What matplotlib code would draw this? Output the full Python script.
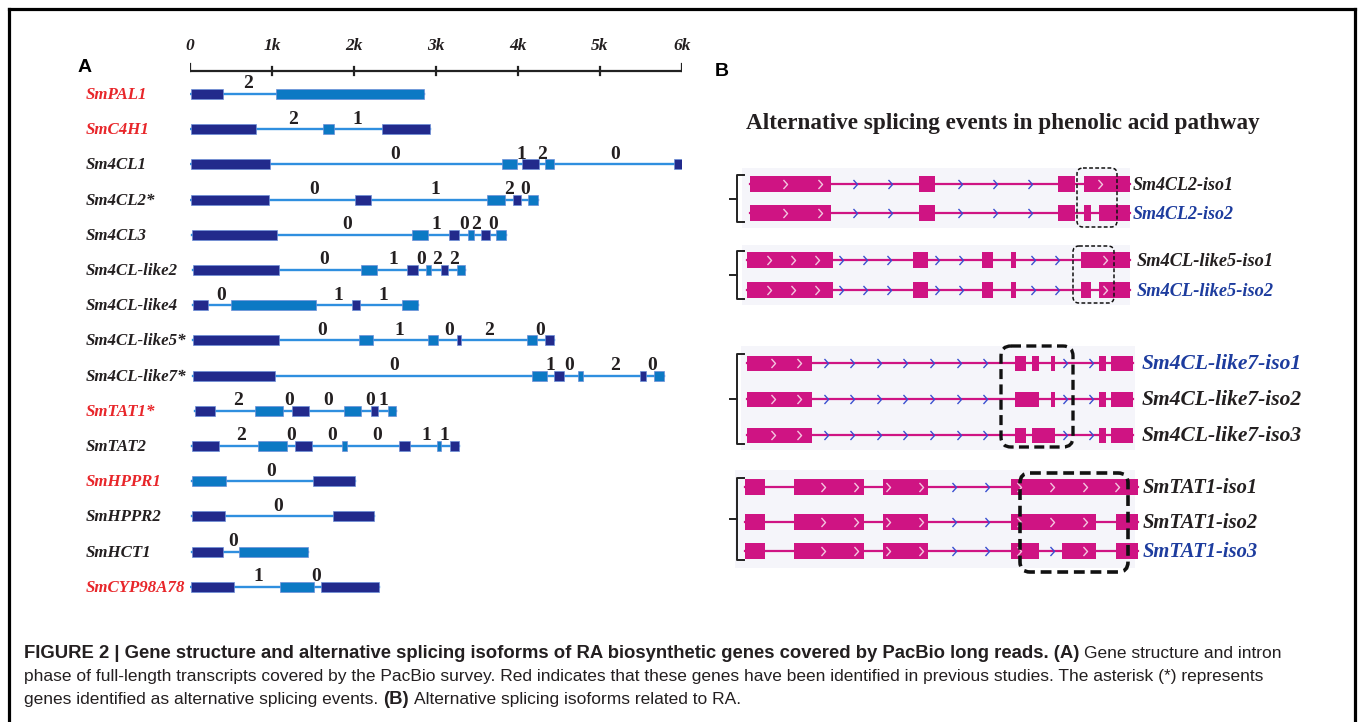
import matplotlib
matplotlib.use("Agg")
import matplotlib.pyplot as plt
from matplotlib.patches import Rectangle, FancyBboxPatch
from matplotlib.path import Path

W, H = 1358, 722

# ---------------- Panel A data (positions in bp) ----------------
genes = ["SmPAL1", "SmC4H1", "Sm4CL1", "Sm4CL2*", "Sm4CL3", "Sm4CL-like2",
         "Sm4CL-like4", "Sm4CL-like5*", "Sm4CL-like7*", "SmTAT1*", "SmTAT2",
         "SmHPPR1", "SmHPPR2", "SmHCT1", "SmCYP98A78"]
previously_identified = [True, True, False, False, False, False, False, False,
                         False, True, False, True, False, False, True]
# exons: (start, end, kind)  kind 'd' = dark, 'l' = light
gene_exons = [
    [(10, 408, 'd'), (1054, 2853, 'l')],
    [(10, 805, 'd'), (1625, 1750, 'l'), (2336, 2932, 'd')],
    [(10, 979, 'd'), (3802, 3986, 'l'), (4046, 4259, 'd'), (4334, 4433, 'l'), (5899, 5999, 'd')],
    [(10, 969, 'd'), (2008, 2207, 'd'), (3628, 3837, 'l'), (3936, 4036, 'd'), (4125, 4244, 'l')],
    [(25, 1059, 'd'), (2709, 2898, 'l'), (3156, 3280, 'd'), (3394, 3464, 'l'), (3554, 3653, 'd'), (3737, 3852, 'l')],
    [(40, 1083, 'd'), (2087, 2276, 'l'), (2644, 2783, 'd'), (2883, 2942, 'l'), (3057, 3146, 'd'), (3255, 3355, 'l')],
    [(40, 224, 'd'), (497, 1541, 'l'), (1978, 2077, 'd'), (2584, 2783, 'l')],
    [(40, 1083, 'd'), (2063, 2236, 'l'), (2897, 3022, 'l'), (3255, 3305, 'd'), (4115, 4234, 'l'), (4324, 4433, 'd')],
    [(40, 1034, 'd'), (4165, 4349, 'l'), (4438, 4562, 'd'), (4736, 4796, 'l'), (5482, 5566, 'd'), (5656, 5775, 'l')],
    [(60, 308, 'd'), (795, 1133, 'l'), (1243, 1451, 'd'), (1879, 2087, 'l'), (2212, 2296, 'd'), (2410, 2510, 'l')],
    [(25, 348, 'd'), (835, 1183, 'l'), (1277, 1491, 'd'), (1854, 1914, 'l'), (2545, 2684, 'd'), (3007, 3066, 'l'), (3171, 3280, 'd')],
    [(25, 437, 'l'), (1501, 2013, 'd')],
    [(25, 432, 'd'), (1749, 2246, 'd')],
    [(25, 398, 'd'), (596, 1441, 'l')],
    [(10, 537, 'd'), (1093, 1511, 'l'), (1600, 2306, 'd')],
]
# intron phases: (position, phase)
gene_phases = [
    [(706, '2')],
    [(1252, '2'), (2038, '1')],
    [(2505, '0'), (4046, '1'), (4299, '2'), (5179, '0')],
    [(1516, '0'), (2992, '1'), (3887, '2'), (4085, '0')],
    [(1913, '0'), (3007, '1'), (3345, '0'), (3489, '2'), (3693, '0')],
    [(1640, '0'), (2475, '1'), (2818, '0'), (3017, '2'), (3215, '2')],
    [(383, '0'), (1814, '1'), (2361, '1')],
    [(1615, '0'), (2550, '1'), (3166, '0'), (3653, '2'), (4274, '0')],
    [(2485, '0'), (4398, '1'), (4622, '0'), (5179, '2'), (5631, '0')],
    [(581, '2'), (1203, '0'), (1690, '0'), (2197, '0'), (2361, '1')],
    [(621, '2'), (1228, '0'), (1730, '0'), (2276, '0'), (2883, '1'), (3096, '1')],
    [(994, '0')],
    [(1078, '0')],
    [(527, '0')],
    [(835, '1'), (1541, '0')],
]
scale_ticks = [0, 1000, 2000, 3000, 4000, 5000, 6000]
scale_labels = ["0", "1k", "2k", "3k", "4k", "5k", "6k"]

# ---------------- Panel B data (track units, relative) ----------------
b_title = "Alternative splicing events in phenolic acid pathway"
b_names = [
    ["Sm4CL2-iso1", "Sm4CL2-iso2"],
    ["Sm4CL-like5-iso1", "Sm4CL-like5-iso2"],
    ["Sm4CL-like7-iso1", "Sm4CL-like7-iso2", "Sm4CL-like7-iso3"],
    ["SmTAT1-iso1", "SmTAT1-iso2", "SmTAT1-iso3"],
]
b_name_blue = [
    [False, True],
    [False, True],
    [True, False, False],
    [False, False, True],
]
b_exons = [
    [[(5, 86), (174, 190), (313, 330), (339, 385)],
     [(5, 86), (174, 190), (313, 330), (339, 346), (354, 385)]],
    [[(2, 88), (168, 183), (237, 248), (266, 271), (336, 385)],
     [(2, 88), (168, 183), (237, 248), (266, 271), (336, 346), (354, 385)]],
    [[(2, 67), (270, 281), (287, 294), (306, 310), (354, 361), (366, 388)],
     [(2, 67), (270, 294), (306, 310), (354, 361), (366, 388)],
     [(2, 67), (270, 281), (287, 310), (354, 361), (366, 388)]],
    [[(0, 20), (49, 119), (138, 183), (266, 393)],
     [(0, 20), (49, 119), (138, 183), (266, 351), (371, 393)],
     [(0, 20), (49, 119), (138, 183), (266, 294), (317, 351), (371, 393)]],
]
# highlighted (dashed box) region per block: (start, end)
b_highlight = [(332, 372), (328, 369), (256, 328), (275, 383)]

caption_lines = [
    [("FIGURE 2 | Gene structure and alternative splicing isoforms of RA biosynthetic genes covered by PacBio long reads. (A)", True),
     ("Gene structure and intron", False)],
    [("phase of full-length transcripts covered by the PacBio survey. Red indicates that these genes have been identified in previous studies. The asterisk (*) represents", False)],
    [("genes identified as alternative splicing events.", False), ("(B)", True),
     ("Alternative splicing isoforms related to RA.", False)],
]

# ---------------- styles ----------------
SERIF = "Liberation Serif"
SANS = "Liberation Sans"
DARK = "#222a8c"
LIGHT = "#0c79c4"
INTRON_A = "#2f8fdf"
RED = "#e8262a"
MAGENTA = "#cf1483"
CHEV_BLUE = "#3a4fd0"
NAME_BLUE = "#1d3c9e"
TEXT = "#231f20"

fig = plt.figure(figsize=(W / 100, H / 100), dpi=100)
fig.patch.set_facecolor("white")

# canvas in pixel coordinates for frame, labels and caption
cax = fig.add_axes([0, 0, 1, 1])
cax.set_xlim(0, W)
cax.set_ylim(H, 0)
cax.axis("off")

# outer frame
fr = dict(color="black", lw=2.3, solid_capstyle="projecting")
cax.plot([9, 9], [H + 5, 9], **fr)
cax.plot([9, 1355], [9, 9], **fr)
cax.plot([1355, 1355], [9, H + 5], **fr)

cax.text(85, 67, "A", fontsize=14, fontweight="bold", family=SANS, ha="center", va="center")
cax.text(722, 72, "B", fontsize=14, fontweight="bold", family=SANS, ha="center", va="center")

# ---------------- Panel A ----------------
axA = fig.add_axes([190 / W, 1 - 622 / H, (682 - 190) / W, (622 - 30) / H])
axA.set_xlim(0, 6000)
axA.set_ylim(622, 30)
axA.axis("off")

row0, drow = 94, 35.2
# scale bar
axA.plot([scale_ticks[0], scale_ticks[-1]], [71, 71], color="#222", lw=1.6, solid_capstyle="butt")
for i, (t, lab) in enumerate(zip(scale_ticks, scale_labels)):
    if i in (0, len(scale_ticks) - 1):
        axA.plot([t, t], [71, 64], color="#222", lw=1.6)
    else:
        axA.plot([t, t], [67, 75], color="#222", lw=1.6)
    axA.text(t, 46, lab, fontsize=12.5, fontweight="bold", style="italic", family=SERIF,
             ha="center", va="center", color=TEXT)

exh = 10
for i, (name, known, exons, phases) in enumerate(zip(genes, previously_identified, gene_exons, gene_phases)):
    y = row0 + drow * i
    cax.text(86, y + 1, name, fontsize=12.2, fontweight="bold", style="italic", family=SERIF,
             color=RED if known else TEXT, ha="left", va="center")
    axA.plot([exons[0][0], exons[-1][1]], [y, y], color=INTRON_A, lw=1.7, zorder=1)
    for s, e, k in exons:
        axA.add_patch(Rectangle((s, y - exh / 2), e - s, exh, facecolor=DARK if k == 'd' else LIGHT,
                                edgecolor="#6c8fd8", lw=0.5, zorder=2))
    for p, ph in phases:
        axA.text(p, y - 5.5, ph, fontsize=14, fontweight="bold", family=SERIF, color=TEXT,
                 ha="center", va="baseline", zorder=3)

# ---------------- Panel B ----------------
B0 = 745  # pixel position of track origin
axB = fig.add_axes([700 / W, 1 - 600 / H, (1358 - 700) / W, 500 / H])
axB.set_xlim(700 - B0, 1358 - B0)
axB.set_ylim(600, 100)
axB.axis("off")

axB.text(1003 - B0, 124, b_title, fontsize=16.7, fontweight="bold", family=SERIF, color=TEXT,
         ha="center", va="center")

block_rows = [[184, 213], [260, 290], [363, 399, 435], [487, 522, 551]]
block_bg = [(-3, 168, 388, 60), (-3, 245, 388, 60), (-4, 346, 394, 104), (-10, 470, 400, 98)]
block_label_x = [1133, 1137, 1142, 1143]
block_label_fs = [13, 13.2, 15.5, 14.8]
block_box = [(168, 227, 1.1, (0, (2.5, 1.5))), (246, 303, 1.1, (0, (2.5, 1.5))),
             (346, 447, 2.4, (0, (3, 1.6))), (473, 572, 2.6, (0, (3, 1.6)))]
chev_grid = [(40, 35), (24, 24), (28, 26.5), (78, 32.7)]
exon_h = [16, 16, 15, 16]

chev = Path([(-0.45, 1.0), (0.45, 0.0), (-0.45, -1.0)], [Path.MOVETO, Path.LINETO, Path.LINETO])

for bi, (rows, names, blues, isos) in enumerate(zip(block_rows, b_names, b_name_blue, b_exons)):
    bx, by, bw, bh = block_bg[bi]
    axB.add_patch(Rectangle((bx, by), bw, bh, facecolor="#f5f5fa", edgecolor="none", zorder=0))
    # bracket
    top, bot = rows[0] - 9, rows[-1] + 9
    mid = (top + bot) / 2
    xb = 737 - B0
    axB.plot([xb + 7, xb, xb, xb + 7], [top, top, bot, bot], color="#222", lw=1.4, zorder=1,
             solid_joinstyle="round")
    axB.plot([xb, xb - 7], [mid, mid], color="#222", lw=1.4, zorder=1)
    start0, period = chev_grid[bi]
    for ri, (y, name, blue, exons) in enumerate(zip(rows, names, blues, isos)):
        hh = exon_h[bi]
        axB.plot([exons[0][0], exons[-1][1]], [y, y], color=MAGENTA, lw=1.6, zorder=1)
        for s, e in exons:
            axB.add_patch(Rectangle((s, y - hh / 2), e - s, hh, facecolor=MAGENTA, edgecolor="none", zorder=2))
        # strand chevrons
        xs_in, xs_out = [], []
        c = start0
        while c < exons[-1][1] - 3:
            inside = [(s, e) for s, e in exons if s <= c <= e]
            if inside:
                s, e = inside[0]
                if e - s > 25 and c - s > 5 and e - c > 5:
                    xs_in.append(c)
            else:
                near = any(abs(c - s) < 4 or abs(c - e) < 4 for s, e in exons)
                if not near:
                    xs_out.append(c)
            c += period
        axB.plot(xs_out, [y] * len(xs_out), ls="none", marker=chev, ms=6.5, mfc="none",
                 mec=CHEV_BLUE, mew=1.0, zorder=3)
        axB.plot(xs_in, [y] * len(xs_in), ls="none", marker=chev, ms=6.5, mfc="none",
                 mec="#f4c6e0", mew=1.0, zorder=3)
        axB.text(block_label_x[bi] - B0, y + 1, name, fontsize=block_label_fs[bi], fontweight="bold",
                 style="italic", family=SERIF, color=NAME_BLUE if blue else TEXT,
                 ha="left", va="center", zorder=4)
    hs, he = b_highlight[bi]
    y0, y1, lw, ls = block_box[bi]
    axB.add_patch(FancyBboxPatch((hs, y0), he - hs, y1 - y0,
                                 boxstyle="round,pad=0,rounding_size=%g" % (6 if lw < 2 else 10),
                                 facecolor="none", edgecolor="#111", lw=lw, ls=ls, zorder=5,
                                 mutation_aspect=1))

# ---------------- caption (mixed bold / regular runs on one baseline) ----------------
cap_fs_bold = 13.3
cap_fs_reg = 12.5
gap_px = 5
baselines = [658, 681, 704]
renderer = fig.canvas.get_renderer()
for line, yb in zip(caption_lines, baselines):
    x = 24
    for txt, bold in line:
        fs = cap_fs_bold if bold else cap_fs_reg
        t = cax.text(x, yb, txt, fontsize=fs, fontweight="bold" if bold else "normal",
                     family=SANS, color=TEXT, ha="left", va="baseline")
        bb = t.get_window_extent(renderer=renderer)
        x = cax.transData.inverted().transform((bb.x1, 0))[0] + gap_px

fig.savefig("out.png", dpi=100, facecolor="white")
